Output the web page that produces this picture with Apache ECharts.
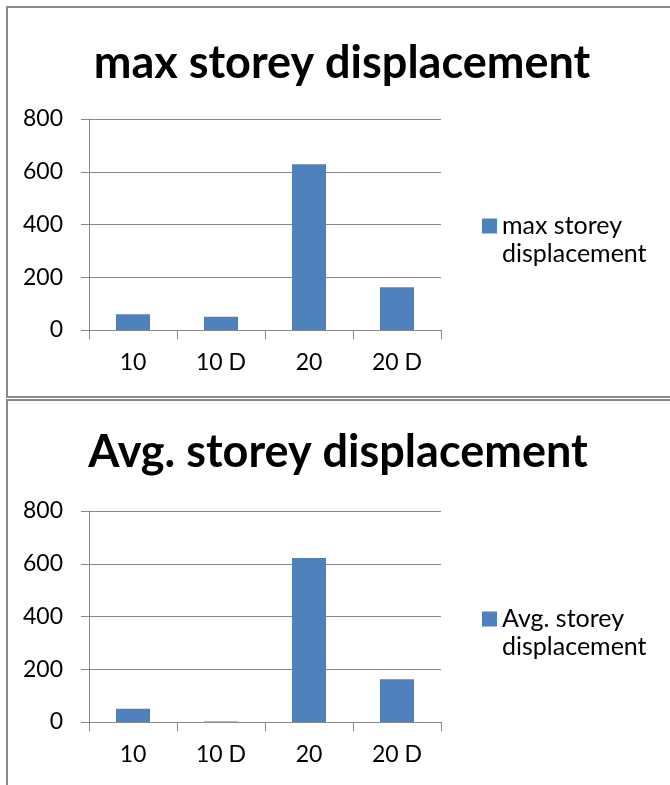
<!DOCTYPE html>
<html>
<head>
<meta charset="utf-8">
<style>
  html, body { margin: 0; padding: 0; background: #fff; }
  #chart { width: 670px; height: 785px; }
</style>
<script src="https://cdn.jsdelivr.net/npm/echarts@6/dist/echarts.min.js"></script>
</head>
<body>
<div id="chart"></div>
<script>
// Storey displacement by model
const categories = ['10', '10 D', '20', '20 D'];
const maxStoreyDisp = [60, 50, 628, 162];
const avgStoreyDisp = [50, 2, 622, 162];
const seriesNames = ['max storey displacement', 'Avg. storey displacement'];
const yMin = 0, yMax = 800, yStep = 200;

const FONT = 'Lato';
const BAR = '#4F81BD';
const GREY = '#898989';
const PANEL_SHIFT = 392;

function grid(top) {
  return { left: 89, top: top, width: 352, height: 211, containLabel: false };
}
function xAxis(i) {
  return {
    type: 'category', gridIndex: i, data: categories,
    axisLine: { lineStyle: { color: GREY, width: 1 } },
    axisTick: { show: true, length: 9, lineStyle: { color: GREY } },
    axisLabel: { color: '#000', fontFamily: FONT, fontSize: 23, margin: 21 }
  };
}
function yAxis(i) {
  return {
    type: 'value', gridIndex: i, min: yMin, max: yMax, interval: yStep,
    axisLine: { show: true, lineStyle: { color: GREY, width: 1 } },
    axisTick: { show: true, length: 8, lineStyle: { color: GREY } },
    splitLine: { lineStyle: { color: GREY, width: 1 } },
    axisLabel: { color: '#000', fontFamily: FONT, fontSize: 23, margin: 26 }
  };
}
// Legend text wraps onto two lines; a blank leading line keeps the
// swatch level with the first line of the label.
function legend(i, top) {
  return {
    data: [seriesNames[i]],
    left: 482, top: top, padding: 0,
    orient: 'vertical',
    itemWidth: 15, itemHeight: 15,
    icon: 'rect',
    formatter: function (name) { return '\u00a0\n' + name.replace(' displacement', '\ndisplacement'); },
    textStyle: { color: '#000', fontFamily: FONT, fontSize: 25, lineHeight: 28 }
  };
}
function titleText(text, x, y) {
  return {
    type: 'text', x: x, y: y,
    style: { text: text, fill: '#000', font: 'bold 45px ' + FONT, textAlign: 'center', textVerticalAlign: 'middle' }
  };
}
function frame(y, h) {
  return {
    type: 'rect', shape: { x: 7, y: y, width: 720, height: h },
    style: { fill: null, stroke: '#8a8a8a', lineWidth: 2 }, silent: true, z: -1
  };
}

const option = {
  animation: false,
  grid: [grid(119), grid(119 + PANEL_SHIFT)],
  xAxis: [xAxis(0), xAxis(1)],
  yAxis: [yAxis(0), yAxis(1)],
  legend: [legend(0, 184), legend(1, 184 + PANEL_SHIFT + 1)],
  series: [
    { name: seriesNames[0], type: 'bar', xAxisIndex: 0, yAxisIndex: 0, data: maxStoreyDisp, barWidth: 34, itemStyle: { color: BAR } },
    { name: seriesNames[1], type: 'bar', xAxisIndex: 1, yAxisIndex: 1, data: avgStoreyDisp, barWidth: 34, itemStyle: { color: BAR } }
  ],
  graphic: [
    frame(7, 390),
    frame(400, 420),
    titleText(seriesNames[0], 342, 63),
    titleText(seriesNames[1], 338, 63 + PANEL_SHIFT - 3)
  ]
};

const chart = echarts.init(document.getElementById('chart'), null, { renderer: 'canvas' });
chart.setOption(option);
</script>
</body>
</html>
